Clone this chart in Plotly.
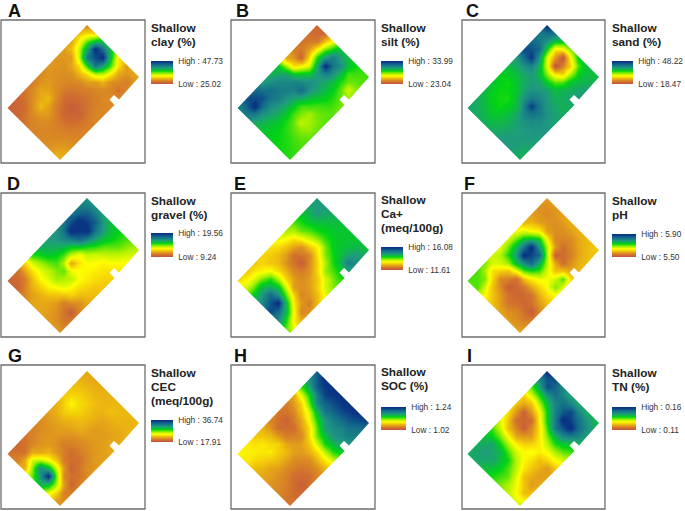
import plotly.graph_objects as go

W, H = 685, 511
letters = ["A", "B", "C", "D", "E", "F", "G", "H", "I"]
titles = [["Shallow", "clay (%)"], ["Shallow", "silt (%)"], ["Shallow", "sand (%)"],
          ["Shallow", "gravel (%)"], ["Shallow", "Ca+", "(meq/100g)"], ["Shallow", "pH"],
          ["Shallow", "CEC", "(meq/100g)"], ["Shallow", "SOC (%)"], ["Shallow", "TN (%)"]]
highs = [47.73, 33.99, 48.22, 19.56, 16.08, 5.90, 36.74, 1.24, 0.16]
lows = [25.02, 23.04, 18.47, 9.24, 11.61, 5.50, 17.91, 1.02, 0.11]

# Position of each sample on the colour ramp (0 = low, 100 = high); rows run along the field's long side.
clay = [[12,28,62,62,32,18,20,20],[25,50,100,100,52,20,12,18],[20,42,80,80,42,16,10,16],
        [18,18,30,30,18,15,15,15],[17,16,16,15,12,12,14,15],[18,16,14,10,8,10,14,15],
        [15,18,15,8,3,5,12,14],[12,20,24,12,6,8,12,15],[10,15,24,18,12,12,14,15],
        [6,8,15,15,14,14,18,20],[5,6,10,13,14,16,22,24]]
silt = [[6,6,35,62,62,56,52,55],[8,10,48,78,74,52,50,50],[10,18,56,100,72,55,40,50],
        [12,6,40,70,66,58,50,45],[20,30,60,74,68,58,52,48],[60,68,78,84,62,52,50,52],
        [64,76,78,68,52,45,48,52],[70,82,78,65,52,42,46,52],[84,90,74,65,55,50,50,52],
        [90,100,72,62,57,55,53,52],[78,80,66,60,58,56,55,54]]
sand = [[100,82,60,48,58,62,62,62],[78,72,32,0,28,58,65,68],[84,84,38,0,28,60,68,72],
        [92,96,65,46,50,65,68,68],[70,72,70,68,68,65,65,65],[62,62,66,72,76,70,68,66],
        [58,56,60,72,94,78,70,68],[60,56,55,62,76,74,72,70],[63,57,56,62,68,70,70,68],
        [66,62,60,63,68,70,68,65],[68,66,65,66,70,70,66,62]]
gravel = [[72,72,68,62,58,52,45,38],[78,88,86,70,58,50,40,34],[82,100,100,68,50,42,35,30],
          [80,100,84,55,40,33,30,28],[72,76,58,35,36,32,28,26],[70,66,52,20,35,32,26,25],
          [66,60,52,50,42,30,24,22],[55,45,42,45,38,28,16,20],[28,30,34,33,25,12,4,16],
          [8,12,22,22,20,16,10,12],[5,5,14,20,20,18,18,14]]
ca = [[70,70,66,62,60,60,62,62],[68,70,62,60,60,62,70,68],[60,60,56,54,58,62,78,72],
      [52,50,40,33,48,55,58,58],[45,30,16,14,28,46,48,52],[38,25,8,3,16,26,40,48],
      [30,24,16,14,15,18,24,36],[28,26,30,28,18,14,12,24],[26,34,55,60,50,32,14,18],
      [26,40,64,84,100,62,33,22],[28,40,60,76,92,76,50,45]]
ph = [[18,18,20,22,22,24,26,26],[16,15,16,16,15,20,24,26],[18,18,18,14,8,12,22,26],
      [22,34,58,42,5,8,20,24],[35,60,100,84,42,25,52,26],[40,64,100,84,52,36,48,30],
      [38,55,62,50,32,28,30,30],[40,40,25,8,10,10,18,22],[48,30,14,4,6,6,3,15],
      [52,48,25,18,10,14,12,18],[52,52,35,25,20,18,18,22]]
cec = [[20,20,21,22,23,23,23,23],[22,23,23,23,25,23,22,25],[25,28,27,23,20,20,20,22],
       [27,34,28,23,18,18,20,22],[22,27,23,22,18,18,19,20],[19,20,19,16,14,15,18,19],
       [15,17,17,12,8,9,16,19],[13,16,18,17,11,6,10,18],[10,14,20,36,40,14,6,16],
       [7,9,40,74,100,44,12,16],[9,13,22,50,64,36,18,18]]
soc = [[88,100,100,98,100,98,94,78],[74,88,94,90,90,88,82,78],[52,56,76,80,78,76,78,74],
       [20,28,40,56,70,72,68,60],[12,14,20,30,50,56,54,48],[10,5,8,14,26,30,32,28],
       [14,8,12,18,18,15,16,18],[22,24,28,24,15,10,8,14],[26,32,32,24,15,8,4,10],
       [32,32,28,20,16,12,8,8],[34,32,24,20,17,14,10,10]]
tn = [[100,90,74,66,66,65,64,60],[76,90,82,82,92,82,74,66],[50,55,62,78,100,100,76,62],
      [28,25,34,58,80,76,60,55],[25,4,8,30,48,55,50,44],[30,8,4,18,32,36,36,30],
      [38,24,20,28,36,25,18,20],[52,48,44,40,34,26,18,22],[62,68,64,56,42,25,18,26],
      [66,70,68,58,50,36,24,30],[66,68,62,55,48,42,38,48]]
fields = [clay, silt, sand, gravel, ca, ph, cec, soc, tn]

ramp = [[0, "#c2533f"], [0.08, "#cf6c30"], [0.16, "#dc9020"], [0.26, "#f2c70a"], [0.35, "#ffff00"],
        [0.45, "#a5f000"], [0.57, "#00d414"], [0.70, "#1f9a80"], [0.84, "#136a8a"], [0.96, "#0a3585"],
        [1, "#0a3585"]]

# Layout in page pixels
frame_x = [(1, 145), (231, 375), (462, 605)] * 3
frame_y = [(20, 163)] * 3 + [(193, 337)] * 3 + [(365, 509)] * 3
apex = [(87, 25), (317, 25), (547, 25), (87, 198), (317, 198), (547, 198), (87, 371), (317, 371), (547, 371)]
bars = [(151, 173, 61, 84), (381, 403, 61, 84), (612, 633, 61, 84),
        (151, 173, 233, 257), (381, 403, 247, 270), (612, 636, 234, 257),
        (151, 173, 420, 442), (381, 406, 407, 430), (612, 636, 407, 430)]
title_y = [28, 28, 28, 201, 200, 201, 373, 372, 373]
letter_xy = [(14, 10.5), (242, 10.5), (472, 10.5), (13, 184), (240, 184), (469, 184), (15, 356), (240, 356), (469, 356)]
STEP_X, STEP_Y = 7.8, 8.1
OUTLINE = [(0, 0), (52, 52), (32, 74.5), (27, 70), (22.5, 74.5), (27.5, 80), (-27, 135), (-79.5, 83)]

fig = go.Figure()
shapes, notes = [], []
FONT = "Liberation Sans, Arial, sans-serif"
for k, rows in enumerate(fields):
    ax, ay = apex[k]
    nu, nv = len(rows), len(rows[0])
    lo, hi = lows[k], highs[k]
    # The samples lie on a diagonal lattice: place them in every other cell, plotly fills the gaps.
    n_r, n_c = nu + nv - 1, nu + nv - 1
    z = [[None] * n_c for _ in range(n_r)]
    for i, r in enumerate(rows):
        for j, p in enumerate(r):
            z[i + j][j - i + nu - 1] = lo + (hi - lo) * p / 100
    b = bars[k]
    fig.add_trace(go.Heatmap(
        z=z, x0=ax - (nu - 1) * STEP_X, dx=STEP_X, y0=ay, dy=STEP_Y, xaxis="x", yaxis="y",
        colorscale=ramp, zmin=lo, zmax=hi, zsmooth="best", connectgaps=True, hoverinfo="skip",
        colorbar=dict(x=b[0] / W, xanchor="left", y=1 - b[2] / H, yanchor="top",
                      thicknessmode="pixels", thickness=b[1] - b[0], lenmode="pixels", len=b[3] - b[2],
                      xpad=0, ypad=0, outlinewidth=0, borderwidth=0,
                      tickmode="array", tickvals=[lo, hi],
                      ticktext=[f"Low : {lo:.2f}", f"High : {hi:.2f}"],
                      ticks="outside", ticklen=4, tickcolor="rgba(0,0,0,0)",
                      tickfont=dict(family=FONT, size=8.3, color="#333333"))))
    fx, fy = frame_x[k], frame_y[k]
    # White surround leaves only the field's outline (with its notch) showing
    outer = (f"M{fx[0] - 1},{fy[0] - 1} L{fx[1] + 1},{fy[0] - 1} L{fx[1] + 1},{fy[1] + 8} "
             f"L{fx[0] - 1},{fy[1] + 8} Z ")
    inner = "M" + " L".join(f"{ax + p[0]},{ay + p[1]}" for p in OUTLINE) + " Z"
    shapes.append(dict(type="path", path=outer + inner, xref="x", yref="y", fillcolor="white",
                       fillrule="evenodd", line=dict(width=0), layer="above"))
    shapes.append(dict(type="rect", x0=fx[0], x1=fx[1], y0=fy[0], y1=fy[1], xref="x", yref="y",
                       line=dict(color="#6e6e6e", width=1.3), fillcolor="rgba(0,0,0,0)", layer="above"))
    notes.append(dict(x=letter_xy[k][0], y=letter_xy[k][1], text=f"<b>{letters[k]}</b>", showarrow=False,
                      xanchor="center", yanchor="middle", font=dict(family=FONT, size=18, color="#111111")))
    for m, line in enumerate(titles[k]):
        notes.append(dict(x=b[0], y=title_y[k] + 13.8 * m, text=f"<b>{line}</b>", showarrow=False,
                          xanchor="left", yanchor="middle", xshift=-2,
                          font=dict(family=FONT, size=11.8, color="#222222")))

fig.update_layout(
    width=W, height=H, margin=dict(l=0, r=0, t=0, b=0), paper_bgcolor="white", plot_bgcolor="white",
    showlegend=False, shapes=shapes, annotations=notes,
    xaxis=dict(range=[0, W], visible=False, fixedrange=True),
    yaxis=dict(range=[H, 0], visible=False, fixedrange=True),
)
fig.write_html("out.html", config={"displayModeBar": False},
               post_script="document.body.style.margin='0';document.body.style.overflow='hidden';")
